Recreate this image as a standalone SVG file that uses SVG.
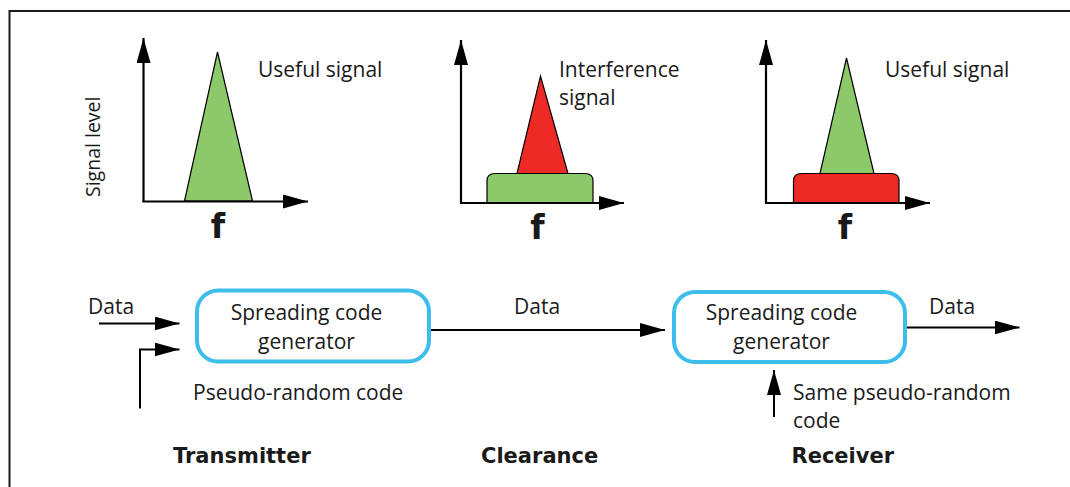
<svg xmlns="http://www.w3.org/2000/svg" width="1070" height="487" viewBox="0 0 1070 487">
  <defs>
    <marker id="arrow" markerWidth="25" markerHeight="14" refX="25" refY="7" orient="auto" markerUnits="userSpaceOnUse">
      <path d="M0,0 L25,7 L0,14 Z" fill="#000"/>
    </marker>
    <style>
      text { font-family: "Open Sans", Lato, "Liberation Sans", sans-serif; fill: #1a1a1a; font-size: 21px; }
      .bold { font-family: "DejaVu Sans", "Liberation Sans", sans-serif; font-weight: bold; font-size: 21px; }
      .f { font-family: "DejaVu Sans", "Liberation Sans", sans-serif; font-weight: bold; font-size: 33px; }
      .ylabel { font-size: 19.5px; }
      .axis { fill: none; stroke: #000; stroke-width: 2.2; marker-end: url(#arrow); }
      .wire { fill: none; stroke: #000; stroke-width: 2; }
      .arrowed { marker-end: url(#arrow); }
      .green { fill: #8cc96a; stroke: #000; stroke-width: 1.2; }
      .red { fill: #ee2a26; stroke: #000; stroke-width: 1.2; }
      .box { fill: #fff; stroke: #3dbdea; stroke-width: 4; }
      .frame { fill: none; stroke: #1a1a1a; stroke-width: 2; }
    </style>
  </defs>

  <rect width="1070" height="487" fill="#fff"/>
  <!-- outer frame: top and left edges -->
  <path class="frame" d="M9.5,487 V11 H1070"/>

  <!-- spectrum before spreading -->
  <g id="spectrum-useful">
    <polygon class="green" points="184.5,201 217.5,52 252.5,201"/>
    <path class="axis" d="M143.5,202 V38"/>
    <path class="axis" d="M142.5,201.5 H308"/>
    <text x="258" y="77">Useful signal</text>
    <text class="ylabel" transform="translate(100,197) rotate(-90)">Signal level</text>
    <text class="f" x="218" y="238" text-anchor="middle">f</text>
  </g>

  <!-- spectrum on the channel -->
  <g id="spectrum-channel">
    <path class="green" d="M487,203 V181 Q487,173.5 495,173.5 H585 Q593,173.5 593,181 V203 Z"/>
    <polygon class="red" points="517,173.5 540.5,76 568,173.5"/>
    <path class="axis" d="M461,203.5 V40"/>
    <path class="axis" d="M460,203 H624"/>
    <text x="559" y="77">Interference</text>
    <text x="559" y="105">signal</text>
    <text class="f" x="537.5" y="239" text-anchor="middle">f</text>
  </g>

  <!-- spectrum after despreading -->
  <g id="spectrum-despread">
    <path class="red" d="M793.5,203 V181 Q793.5,173.5 801.5,173.5 H891 Q899,173.5 899,181 V203 Z"/>
    <polygon class="green" points="820,173.5 846.5,58 874,173.5"/>
    <path class="axis" d="M766,203.5 V40"/>
    <path class="axis" d="M765,203 H930"/>
    <text x="885" y="77">Useful signal</text>
    <text class="f" x="845" y="239" text-anchor="middle">f</text>
  </g>

  <!-- signal path -->
  <g id="connectors">
    <path class="wire arrowed" d="M99,323.5 H179.5"/>
    <path class="wire arrowed" d="M140,408.5 V349.5 H179.5"/>
    <path class="wire arrowed" d="M430,330 H665"/>
    <path class="wire arrowed" d="M906,327.5 H1019.5"/>
    <path class="wire arrowed" d="M774,417 V370"/>
  </g>

  <g id="transmitter">
    <rect class="box" x="197" y="290.5" width="232" height="71" rx="21"/>
    <text x="306.5" y="319.5" text-anchor="middle">Spreading code</text>
    <text x="306.5" y="348.5" text-anchor="middle">generator</text>
    <text x="88" y="313.5">Data</text>
    <text x="193" y="399.5">Pseudo-random code</text>
    <text class="bold" x="173" y="462.5">Transmitter</text>
  </g>

  <g id="clearance">
    <text x="514" y="313.5">Data</text>
    <text class="bold" x="481" y="462.5">Clearance</text>
  </g>

  <g id="receiver">
    <rect class="box" x="674" y="292" width="231" height="70" rx="21"/>
    <text x="781.5" y="319.5" text-anchor="middle">Spreading code</text>
    <text x="781.5" y="348.5" text-anchor="middle">generator</text>
    <text x="929" y="313.5">Data</text>
    <text x="793" y="399.5">Same pseudo-random</text>
    <text x="793" y="427.5">code</text>
    <text class="bold" x="791.5" y="462.5">Receiver</text>
  </g>
</svg>
